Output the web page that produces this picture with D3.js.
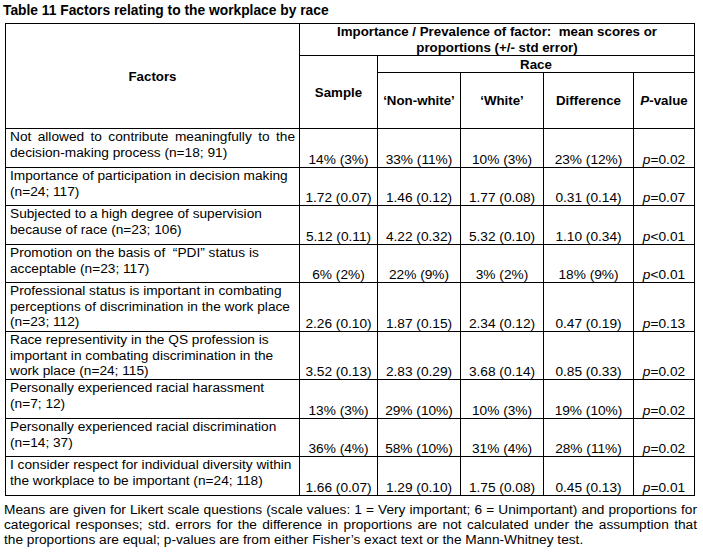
<!DOCTYPE html>
<html>
<head>
<meta charset="utf-8">
<script src="https://cdn.jsdelivr.net/npm/d3@7"></script>
<style>
  body { margin: 0; background: #fff; }
  text { font-family: "Liberation Sans", Arial, sans-serif; fill: #000; white-space: pre; }
</style>
</head>
<body>
<svg id="table"></svg>
<script>
// table content
const title = "Table 11 Factors relating to the workplace by race";
const groupHeader = ["Importance / Prevalence of factor:  mean scores or", "proportions (+/- std error)"];
const raceHeader = "Race";
const columns = ["Factors", "Sample", "\u2018Non-white\u2019", "\u2018White\u2019", "Difference", "P-value"];

const factors = [
  ["Not allowed to contribute meaningfully to the", "decision-making process (n=18; 91)"],
  ["Importance of participation in decision making", "(n=24; 117)"],
  ["Subjected to a high degree of supervision", "because of race (n=23; 106)"],
  ["Promotion on the basis of  \u201cPDI\u201d status is", "acceptable (n=23; 117)"],
  ["Professional status is important in combating", "perceptions of discrimination in the work place", "(n=23; 112)"],
  ["Race representivity in the QS profession is", "important in combating discrimination in the", "work place (n=24; 115)"],
  ["Personally experienced racial harassment", "(n=7; 12)"],
  ["Personally experienced racial discrimination", "(n=14; 37)"],
  ["I consider respect for individual diversity within", "the workplace to be important (n=24; 118)"]
];
const sample     = ["14% (3%)", "1.72 (0.07)", "5.12 (0.11)", "6% (2%)", "2.26 (0.10)", "3.52 (0.13)", "13% (3%)", "36% (4%)", "1.66 (0.07)"];
const nonWhite   = ["33% (11%)", "1.46 (0.12)", "4.22 (0.32)", "22% (9%)", "1.87 (0.15)", "2.83 (0.29)", "29% (10%)", "58% (10%)", "1.29 (0.10)"];
const white      = ["10% (3%)", "1.77 (0.08)", "5.32 (0.10)", "3% (2%)", "2.34 (0.12)", "3.68 (0.14)", "10% (3%)", "31% (4%)", "1.75 (0.08)"];
const difference = ["23% (12%)", "0.31 (0.14)", "1.10 (0.34)", "18% (9%)", "0.47 (0.19)", "0.85 (0.33)", "19% (10%)", "28% (11%)", "0.45 (0.13)"];
const pValues    = ["p=0.02", "p=0.07", "p<0.01", "p<0.01", "p=0.13", "p=0.02", "p=0.02", "p=0.02", "p=0.01"];

const notes = [
  "Means are given for Likert scale questions (scale values: 1 = Very important; 6 = Unimportant) and proportions for",
  "categorical responses; std. errors for the difference in proportions are not calculated under the assumption that",
  "the proportions are equal; p-values are from either Fisher\u2019s exact text or the Mann-Whitney test."
];

const W = 703, H = 556;
const bodySize = 13.7, headSize = 13.3, lineH = 15.6;

const svg = d3.select("#table")
  .attr("width", W)
  .attr("height", H);

// column edges of the grid
const x = d3.scaleOrdinal()
  .domain(d3.range(7))
  .range([5.5, 299.5, 377.5, 460.5, 543.5, 633.5, 694.5]);
const mid = i => (x(i) + x(i + 1)) / 2;

// header bands
const hy = d3.scaleOrdinal()
  .domain(["top", "group", "race", "bottom"])
  .range([23.5, 55.5, 72.5, 128.5]);

// body rows: height follows number of text lines
const rowH = factors.map(f => Math.max(38.6, f.length * lineH + 1.5));
const rowEdges = [hy("bottom")].concat(Array.from(d3.cumsum(rowH), v => hy("bottom") + v))
  .map(v => Math.round(v - 0.5) + 0.5);
const y = d3.scaleOrdinal()
  .domain(d3.range(rowEdges.length))
  .range(rowEdges);
const bottom = y(factors.length);

// words spread to fill a line
function justify(str, x0, x1, yy, size) {
  const words = str.split(" ");
  const t = svg.append("text").attr("font-size", size).attr("y", yy);
  const widths = words.map(w => { t.text(w); return t.node().getComputedTextLength(); });
  t.text(null);
  const gap = (x1 - x0 - d3.sum(widths)) / (words.length - 1);
  let cx = x0;
  words.forEach((w, i) => {
    t.append("tspan").attr("x", cx).text(w);
    cx += widths[i] + gap;
  });
}

function italicFirst(t, s) {
  t.append("tspan").style("font-style", "italic").text(s[0]);
  t.append("tspan").text(s.slice(1));
}

// title
svg.append("text")
  .attr("x", 3)
  .attr("y", 15)
  .attr("font-size", 13.8)
  .attr("font-weight", "bold")
  .text(title);

// grid lines
const grid = svg.append("g").attr("stroke", "#000").attr("stroke-width", 1);
const hLines = [
  [x(0), x(6), hy("top")],
  [x(1), x(6), hy("group")],
  [x(2), x(6), hy("race")]
].concat(rowEdges.map(v => [x(0), x(6), v]));
grid.selectAll(".h").data(hLines).enter().append("line")
  .attr("x1", d => d[0] - 0.5).attr("x2", d => d[1] + 0.5)
  .attr("y1", d => d[2]).attr("y2", d => d[2]);
const vLines = [
  [x(0), hy("top")], [x(1), hy("top")], [x(2), hy("group")],
  [x(3), hy("race")], [x(4), hy("race")], [x(5), hy("race")], [x(6), hy("top")]
];
grid.selectAll(".v").data(vLines).enter().append("line")
  .attr("x1", d => d[0]).attr("x2", d => d[0])
  .attr("y1", d => d[1]).attr("y2", bottom);

// header text
const head = svg.append("g")
  .attr("font-size", headSize)
  .attr("font-weight", "bold")
  .attr("text-anchor", "middle");
groupHeader.forEach((s, i) => {
  head.append("text").attr("x", (x(1) + x(6)) / 2).attr("y", 35.7 + i * 16).text(s);
});
head.append("text").attr("x", (x(2) + x(6)) / 2).attr("y", (hy("group") + hy("race")) / 2 + 4.6).text(raceHeader);
head.append("text").attr("x", mid(0)).attr("y", (hy("top") + hy("bottom")) / 2 + 4.5).text(columns[0]);
head.append("text").attr("x", mid(1)).attr("y", (hy("group") + hy("bottom")) / 2 + 4.5).text(columns[1]);
columns.slice(2).forEach((c, i) => {
  const t = head.append("text").attr("x", mid(i + 2)).attr("y", (hy("race") + hy("bottom")) / 2 + 4.6);
  if (c === "P-value") italicFirst(t, c);
  else t.text(c);
});

// factor labels
factors.forEach((lines, r) => {
  lines.forEach((s, j) => {
    const yy = y(r) + 12.4 + j * lineH;
    if (r === 0 && j === 0) justify(s, 10, 295, yy, bodySize);
    else svg.append("text").attr("x", 10).attr("y", yy).attr("font-size", bodySize).text(s);
  });
});

// value cells, bottom aligned
const valueCols = [sample, nonWhite, white, difference, pValues];
valueCols.forEach((col, c) => {
  col.forEach((v, r) => {
    const t = svg.append("text")
      .attr("x", mid(c + 1))
      .attr("y", y(r + 1) - 3.6)
      .attr("font-size", bodySize)
      .attr("text-anchor", "middle");
    if (c === 4) italicFirst(t, v);
    else t.text(v);
  });
});

// footnote
notes.forEach((s, i) => {
  const yy = bottom + 18 + i * 15;
  if (i < notes.length - 1) justify(s, 4, 697, yy, bodySize);
  else svg.append("text").attr("x", 4).attr("y", yy).attr("font-size", bodySize).text(s);
});
</script>
</body>
</html>
